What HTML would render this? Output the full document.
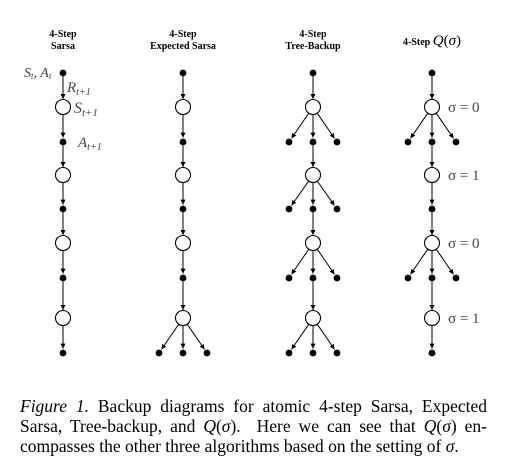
<!DOCTYPE html>
<html><head><meta charset="utf-8">
<style>
body{margin:0;background:#fff;width:514px;height:476px;overflow:hidden;position:relative;font-family:"Liberation Serif",serif;}
.t{position:absolute;font-weight:bold;font-size:10px;text-align:center;width:120px;line-height:12px;color:#000}
.cap{position:absolute;left:20px;top:396px;width:467px;font-size:17.5px;line-height:20px;color:#000}
.cap div{text-align:justify;text-align-last:justify;white-space:nowrap}
.cap div.last{text-align-last:left}
i{font-style:italic}
</style></head><body>
<div class="t" style="left:3px;top:29px">4-Step<br>Sarsa</div>
<div class="t" style="left:123px;top:29px">4-Step<br>Expected Sarsa</div>
<div class="t" style="left:253px;top:29px">4-Step<br>Tree-Backup</div>
<div class="t" style="left:372px;top:35px">4-Step <span style="font-weight:normal;font-style:italic;font-size:15px">Q</span><span style="font-weight:normal;font-size:15px">(<i>σ</i>)</span></div>
<svg id="d" width="514" height="380" style="position:absolute;left:0;top:0">
<defs><marker id="ah" markerWidth="6" markerHeight="6" refX="5" refY="3" orient="auto" markerUnits="userSpaceOnUse"><path d="M0,0.5 L5,3 L0,5.5 z" fill="#000"/></marker></defs>
<g font-family="Liberation Serif,serif" font-style="italic" fill="#444" font-size="14">
<text x="24" y="77">S<tspan font-size="9" dy="2">t</tspan><tspan dy="-2">, A</tspan><tspan font-size="9" dy="2">t</tspan></text>
<text x="67" y="92" font-size="15">R<tspan font-size="10" dy="3">t+1</tspan></text>
<text x="74" y="113" font-size="16">S<tspan font-size="11" dy="3">t+1</tspan></text>
<text x="78" y="147" font-size="15">A<tspan font-size="10" dy="3">t+1</tspan></text>
</g>
</svg>
<div class="cap">
<div><i>Figure 1.</i> Backup diagrams for atomic 4-step Sarsa, Expected</div>
<div>Sarsa, Tree-backup, and <i>Q</i>(<i>σ</i>). &nbsp;Here we can see that <i>Q</i>(<i>σ</i>) en-</div>
<div class="last">compasses the other three algorithms based on the setting of <i>σ</i>.</div>
</div>
<script>
const columnNames=['sarsa','expected-sarsa','tree-backup','q-sigma'];
const columnX=[63,183,313,432];
const sarsaBranches=[1,1,1,1];
const expectedBranches=[1,1,1,3];
const treeBranches=[3,3,3,3];
const qBranches=[3,1,3,1];
const sigmaLabels=['σ = 0','σ = 1','σ = 0','σ = 1'];
const branches=[sarsaBranches,expectedBranches,treeBranches,qBranches];
const topY=73, circleYs=[107,175,243,318], dotYs=[142,209,278,353];
const svg=document.getElementById('d');const NS='http://www.w3.org/2000/svg';
function mk(t,a){const e=document.createElementNS(NS,t);for(const k in a)e.setAttribute(k,a[k]);svg.appendChild(e);return e;}
const R=7.5,r=3.4,sp=24;
branches.forEach((br,c)=>{
  const x=columnX[c];
  let d=mk('circle',{cx:x,cy:topY,r:r,fill:'#000'});
  
  
  let prevY=topY;
  for(let i=0;i<4;i++){
    const cy=circleYs[i];
    let l=mk('line',{x1:x,y1:prevY+r,x2:x,y2:cy-R-0.5,stroke:'#000','stroke-width':1,'marker-end':'url(#ah)'});
    
    
    let s=mk('circle',{cx:x,cy:cy,r:R,fill:'#fff',stroke:'#000','stroke-width':1.1});
    
    
    if(c===3){const t=mk('text',{x:x+16,y:cy+5,'font-family':'Liberation Serif,serif','font-size':'15',fill:'#444'});t.textContent=sigmaLabels[i];
      
      }
    const n=br[i],dy=dotYs[i];
    for(let k=0;k<n;k++){
      const dx=x+(n===1?0:(k-1)*sp);
      const ang=Math.atan2(dy-cy,dx-x);
      const l2=mk('line',{x1:x+R*Math.cos(ang),y1:cy+R*Math.sin(ang),x2:dx-(r+1)*Math.cos(ang),y2:dy-(r+1)*Math.sin(ang),stroke:'#000','stroke-width':1,'marker-end':'url(#ah)'});
      
      
      const dd=mk('circle',{cx:dx,cy:dy,r:r,fill:'#000'});
      
      
    }
    prevY=dy;
  }
});
</script>
</body></html>
